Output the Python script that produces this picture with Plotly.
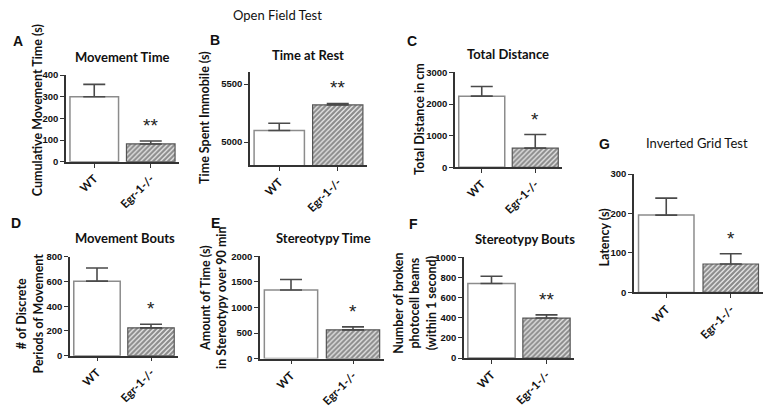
import plotly.graph_objects as go

W, H = 770, 410

categories = ["WT", "Egr-1-/-"]
panel_letters = ["A", "B", "C", "D", "E", "F", "G"]
panel_titles = ["Movement Time", "Time at Rest", "Total Distance", "Movement Bouts",
                "Stereotypy Time", "Stereotypy Bouts", "Inverted Grid Test"]
y_titles = ["Cumulative Movement Time (s)", "Time Spent Immobile (s)", "Total Distance in cm",
            "# of Discrete<br>Periods of Movement",
            "Amount of Time (s)<br>in Stereotypy over 90 min",
            "Number of broken<br>photocell beams<br>(within 1 second)",
            "Latency (s)"]
wt_mean = [300, 5100, 2250, 603, 1342, 740, 196]
wt_sem = [57, 62, 305, 106, 205, 72, 43]
ko_mean = [82, 5320, 605, 225, 562, 397, 72]
ko_sem = [14, 13, 430, 29, 58, 32, 26]
stars = ["**", "**", "*", "*", "*", "**", "*"]
y_ranges = [[0, 400], [4800, 5600], [0, 3000], [0, 800], [0, 2000], [0, 1000], [0, 300]]
y_dticks = [100, 500, 1000, 200, 500, 200, 100]

# layout (pixels): plot rect x0, x1, ytop, ybottom
rects = [(66, 179, 71, 160), (250, 367, 68.3, 163.7), (455, 562, 68.3, 165.7),
         (70, 178, 257.7, 359.3), (260, 384, 257.3, 362.3), (464, 574, 258.3, 361.7),
         (634, 763, 172.7, 294.3)]
title_pos = [(122, 52), (308, 50), (508, 49), (125, 238), (323, 238), (525, 239), (697, 141)]
letter_pos = [(18, 36), (215, 35), (412, 36), (16, 223), (215, 223), (413, 224), (604, 142)]
ytitle_pos = [(37, 107), (205, 114), (420, 116), (30, 316), (214, 300), (415, 306), (605, 238)]

FONT = "Lato"
AXC = "#333333"

fig = go.Figure()
annotations = []

def px_x(x):
    return x / W

def px_y(y):
    return 1 - y / H

for i in range(7):
    n = "" if i == 0 else str(i + 1)
    xa, ya = "x" + n, "y" + n
    fig.add_trace(go.Bar(
        x=[categories[0]], y=[wt_mean[i]], width=0.86,
        marker=dict(color="white", line=dict(color="#8c8c8c", width=1.5)),
        error_y=dict(type="data", symmetric=False, array=[wt_sem[i]], arrayminus=[0],
                     color="#4a4a4a", thickness=1.6, width=11),
        xaxis=xa, yaxis=ya, showlegend=False))
    fig.add_trace(go.Bar(
        x=[categories[1]], y=[ko_mean[i]], width=0.86,
        marker=dict(color="white", line=dict(color="#555555", width=1.2),
                    pattern=dict(shape="/", fgcolor="#2a2a2a", bgcolor="#eeeeee",
                                 size=3.5, solidity=0.65)),
        error_y=dict(type="data", symmetric=False, array=[ko_sem[i]], arrayminus=[0],
                     color="#4a4a4a", thickness=1.6, width=11),
        xaxis=xa, yaxis=ya, showlegend=False))

    x0, x1, yt, yb = rects[i]
    axis_common = dict(showline=True, linecolor=AXC, linewidth=1.6, ticks="outside",
                       tickcolor=AXC, tickwidth=1.4, ticklen=4, showgrid=False,
                       zeroline=False, mirror=False)
    fig.layout["xaxis" + n] = dict(
        domain=[px_x(x0), px_x(x1)], anchor=ya, type="category",
        categoryorder="array", categoryarray=categories, range=[-0.5, 1.5],
        tickangle=-45, ticklabelstandoff=0,
        tickfont=dict(family=FONT, size=11.5, color="#111", weight="bold"),
        **axis_common)
    fig.layout["yaxis" + n] = dict(
        domain=[px_y(yb), px_y(yt)], anchor=xa, range=y_ranges[i], dtick=y_dticks[i],
        tick0=0, tickfont=dict(family="Liberation Sans", size=9.5, color="#111", weight="bold"),
        **axis_common)

    # significance stars above KO error bar
    annotations.append(dict(x=categories[1], y=ko_mean[i] + ko_sem[i], xref=xa, yref=ya,
                            text=stars[i], showarrow=False, yanchor="bottom", yshift=3,
                            font=dict(family="Liberation Sans", size=19, color="#222")))
    tx, ty = title_pos[i]
    ttxt = panel_titles[i] if i == 6 else "<b>" + panel_titles[i] + "</b>"
    annotations.append(dict(x=px_x(tx), y=px_y(ty), xref="paper", yref="paper",
                            text=ttxt, showarrow=False, xanchor="center", yanchor="middle",
                            font=dict(family=FONT, size=13, color="#111")))
    lx, ly = letter_pos[i]
    annotations.append(dict(x=px_x(lx), y=px_y(ly), xref="paper", yref="paper",
                            text="<b>" + panel_letters[i] + "</b>", showarrow=False,
                            xanchor="center", yanchor="middle",
                            font=dict(family="Liberation Sans", size=14, color="#111")))
    yx, yy = ytitle_pos[i]
    annotations.append(dict(x=px_x(yx), y=px_y(yy), xref="paper", yref="paper",
                            text="<b>" + y_titles[i] + "</b>", showarrow=False,
                            textangle=-90, xanchor="center", yanchor="middle",
                            font=dict(family=FONT, size=12.5, color="#111")))

annotations.append(dict(x=px_x(277), y=px_y(9), xref="paper", yref="paper",
                        text="Open Field Test", showarrow=False, xanchor="center",
                        yanchor="middle", font=dict(family=FONT, size=13, color="#111")))

fig.update_layout(width=W, height=H, margin=dict(l=0, r=0, t=0, b=0),
                  paper_bgcolor="white", plot_bgcolor="white", annotations=annotations,
                  barmode="overlay")

fig.write_html("out.html", config={"displayModeBar": False},
               post_script="document.body.style.margin='0px';document.body.style.overflow='hidden';")
